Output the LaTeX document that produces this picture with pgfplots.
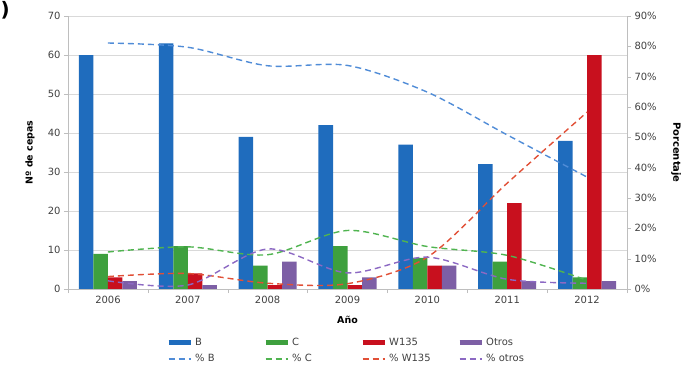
\documentclass[border=0pt]{standalone}
\usepackage{fontspec}
\setmainfont{DejaVu Sans}
\usepackage{pgfplots}
\pgfplotsset{compat=1.18}
\definecolor{cB}{RGB}{31,108,189}
\definecolor{cC}{RGB}{62,160,62}
\definecolor{cW}{RGB}{200,16,30}
\definecolor{cO}{RGB}{125,95,165}
\definecolor{lB}{RGB}{80,140,215}
\definecolor{lC}{RGB}{80,180,80}
\definecolor{lW}{RGB}{225,80,55}
\definecolor{lO}{RGB}{140,105,195}
\definecolor{tc}{RGB}{64,64,64}
\definecolor{axc}{RGB}{190,190,190}
\begin{document}
\begin{tikzpicture}
\pgfplotsset{
  common/.style={
    scale only axis, width=559bp, height=273bp,
    xmin=-0.5, xmax=6.5,
    axis line style={axc},
    tick style={axc},
    tick align=outside,
    major tick length=4bp, minor tick length=4bp,
    tick label style={font=\fontsize{10}{11}\selectfont, text=tc},
    /pgf/number format/assume math mode=true,
  }
}
\begin{axis}[common,
  ymin=0, ymax=70,
  axis y line*=left, axis x line*=bottom,
  ybar=0pt, bar width=14.5bp,
  xtick={0,...,6},
  xticklabels={2006,2007,2008,2009,2010,2011,2012},
  major x tick style={draw=none},
  minor xtick={-0.5,0.5,...,6.5},
  ytick={0,10,...,70},
  ymajorgrids, grid style={color=gray!30, line width=0.8bp},
  ylabel={\textbf{Nº de cepas}},
  ylabel style={at={(axis description cs:-0.068,0.5)}, anchor=center, font=\fontsize{9.5}{10}\selectfont},
  xlabel={\textbf{Año}},
  xlabel style={at={(axis description cs:0.5,-0.1136)}, anchor=center, font=\fontsize{9.5}{10}\selectfont},
]
\addplot[fill=cB, draw=none] coordinates {(0,60)(1,63)(2,39)(3,42)(4,37)(5,32)(6,38)};
\addplot[fill=cC, draw=none] coordinates {(0,9)(1,11)(2,6)(3,11)(4,8)(5,7)(6,3)};
\addplot[fill=cW, draw=none] coordinates {(0,3)(1,4)(2,1)(3,1)(4,6)(5,22)(6,60)};
\addplot[fill=cO, draw=none] coordinates {(0,2)(1,1)(2,7)(3,3)(4,6)(5,2)(6,2)};
\end{axis}
\begin{axis}[common,
  ymin=0, ymax=90,
  axis y line*=right, axis x line=none,
  ytick={0,10,...,90},
  yticklabel={\pgfmathprintnumber{\tick}\%},
  ylabel={\textbf{Porcentaje}},
  ylabel style={at={(axis description cs:1.0877,0.5)}, anchor=center, rotate=180, font=\fontsize{10}{11}\selectfont},
  legend columns=4,
  legend style={at={(axis description cs:0.17,-0.166)}, anchor=north west, draw=none, fill=none,
    font=\fontsize{10}{11}\selectfont, text=tc, row sep=3bp},
  legend image code/.code={\draw[#1] (0bp,0bp) -- (22bp,0bp);},
  every axis plot/.append style={smooth, tension=0.5, line width=1.4bp, dash pattern=on 6bp off 4bp},
]
\addlegendimage{cB, line width=5bp, solid}
\addlegendentry{\makebox[66bp][l]{B}}
\addlegendimage{cC, line width=5bp, solid}
\addlegendentry{\makebox[66bp][l]{C}}
\addlegendimage{cW, line width=5bp, solid}
\addlegendentry{\makebox[66bp][l]{W135}}
\addlegendimage{cO, line width=5bp, solid}
\addlegendentry{\makebox[50bp][l]{Otros}}
\addplot[lB] coordinates {(0,81.1)(1,79.7)(2,73.6)(3,73.7)(4,64.9)(5,50.8)(6,36.9)};
\addlegendentry{\makebox[66bp][l]{\% B}}
\addplot[lC] coordinates {(0,12.2)(1,13.9)(2,11.3)(3,19.3)(4,14.0)(5,11.1)(6,2.9)};
\addlegendentry{\makebox[66bp][l]{\% C}}
\addplot[lW] coordinates {(0,4.1)(1,5.1)(2,1.9)(3,1.75)(4,10.5)(5,34.9)(6,58.3)};
\addlegendentry{\makebox[66bp][l]{\% W135}}
\addplot[lO] coordinates {(0,2.7)(1,1.3)(2,13.2)(3,5.3)(4,10.5)(5,3.2)(6,1.9)};
\addlegendentry{\makebox[50bp][l]{\% otros}}
\end{axis}
\node[anchor=east, font=\bfseries\fontsize{20}{20}\selectfont, inner sep=0pt] at (-58bp,279bp) {)};
\pgfresetboundingbox
\path[use as bounding box] (-68bp,-76bp) rectangle (619bp,289bp);
\end{tikzpicture}
\end{document}
